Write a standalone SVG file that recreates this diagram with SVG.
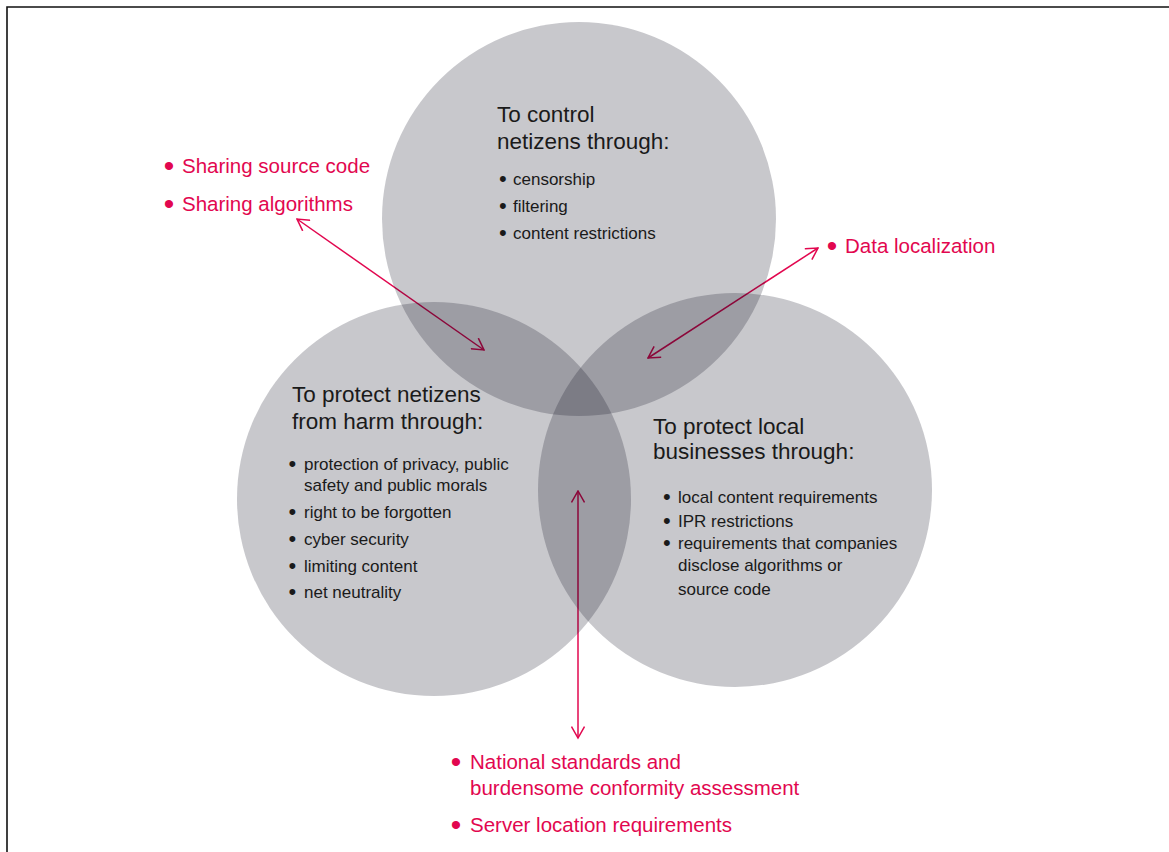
<svg xmlns="http://www.w3.org/2000/svg" width="1169" height="852" viewBox="0 0 1169 852">
<defs>
<style>
.bg{fill:#ffffff}
.frame{stroke:#111;stroke-width:1.6;fill:none}
.circ{fill:#07081a;fill-opacity:0.222}
.title{font-family:"Liberation Sans",Arial,sans-serif;font-size:22.5px;fill:#1a1a1a}
.item{font-family:"Liberation Sans",Arial,sans-serif;font-size:17px;fill:#1a1a1a}
.ib{font-size:22px}
.red{font-family:"Liberation Sans",Arial,sans-serif;font-size:20.5px;fill:#e2074f}
.rb{font-size:30px}
.conn{stroke:#e2074f;stroke-width:1.5;fill:none;marker-start:url(#ah);marker-end:url(#ah)}
</style>
<marker id="ah" viewBox="0 0 14 14" refX="12.5" refY="7" markerWidth="14" markerHeight="14" markerUnits="userSpaceOnUse" orient="auto-start-reverse">
<path d="M1,0.5 L12.5,7 L1,13.5" fill="none" stroke="#e2074f" stroke-width="1.5"/>
</marker>
</defs>
<rect class="bg" x="0" y="0" width="1169" height="852"/>
<path class="frame" d="M7,852 L7,7 L1169,7"/>

<g id="connectors">
<line class="conn" x1="297" y1="219" x2="484" y2="350"/>
<line class="conn" x1="818" y1="248" x2="648" y2="358"/>
<line class="conn" x1="578" y1="491" x2="578" y2="738"/>
</g>

<g id="control">
<circle class="circ" cx="579" cy="219" r="197"/>
<text class="title"><tspan x="497" y="122">To control</tspan><tspan x="497" y="149">netizens through:</tspan></text>
<text class="item"><tspan class="ib" x="499" y="186">•</tspan><tspan x="513" y="185">censorship</tspan><tspan class="ib" x="499" y="213">•</tspan><tspan x="513" y="212">filtering</tspan><tspan class="ib" x="499" y="240">•</tspan><tspan x="513" y="239">content restrictions</tspan></text>
</g>

<g id="protect-netizens">
<circle class="circ" cx="434" cy="499" r="197"/>
<text class="title"><tspan x="292" y="402">To protect netizens</tspan><tspan x="292" y="429">from harm through:</tspan></text>
<text class="item"><tspan class="ib" x="288.5" y="471">•</tspan><tspan x="304" y="470">protection of privacy, public</tspan><tspan x="304" y="491">safety and public morals</tspan><tspan class="ib" x="288.5" y="519">•</tspan><tspan x="304" y="518">right to be forgotten</tspan><tspan class="ib" x="288.5" y="546">•</tspan><tspan x="304" y="545">cyber security</tspan><tspan class="ib" x="288.5" y="573">•</tspan><tspan x="304" y="572">limiting content</tspan><tspan class="ib" x="288.5" y="599">•</tspan><tspan x="304" y="598">net neutrality</tspan></text>
</g>

<g id="protect-businesses">
<circle class="circ" cx="735" cy="490" r="197"/>
<text class="title"><tspan x="653" y="434">To protect local</tspan><tspan x="653" y="459">businesses through:</tspan></text>
<text class="item"><tspan class="ib" x="663" y="504">•</tspan><tspan x="678" y="503">local content requirements</tspan><tspan class="ib" x="663" y="528">•</tspan><tspan x="678" y="527">IPR restrictions</tspan><tspan class="ib" x="663" y="550">•</tspan><tspan x="678" y="549">requirements that companies</tspan><tspan x="678" y="571">disclose algorithms or</tspan><tspan x="678" y="595">source code</tspan></text>
</g>

<g id="label-sharing">
<text class="red"><tspan class="rb" x="163.75" y="175.5">•</tspan><tspan x="182" y="173">Sharing source code</tspan><tspan class="rb" x="163.75" y="213.5">•</tspan><tspan x="182" y="211">Sharing algorithms</tspan></text>
</g>

<g id="label-data">
<text class="red"><tspan class="rb" x="826.75" y="255.5">•</tspan><tspan x="845" y="253">Data localization</tspan></text>
</g>

<g id="label-standards">
<text class="red"><tspan class="rb" x="450.75" y="771.5">•</tspan><tspan x="470" y="769">National standards and</tspan><tspan x="470" y="795">burdensome conformity assessment</tspan><tspan class="rb" x="450.75" y="834.5">•</tspan><tspan x="470" y="832">Server location requirements</tspan></text>
</g>
</svg>
